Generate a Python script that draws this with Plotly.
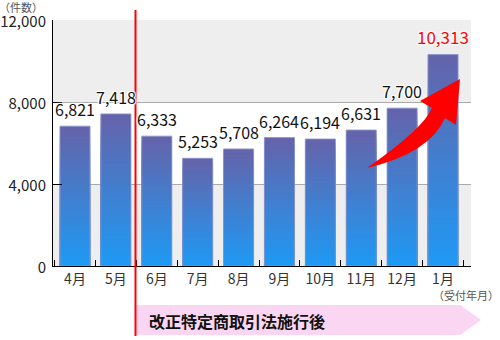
import plotly.graph_objects as go

months = ["4月", "5月", "6月", "7月", "8月", "9月", "10月", "11月", "12月", "1月"]
counts = [6821, 7418, 6333, 5253, 5708, 6264, 6194, 6631, 7700, 10313]
y_ticks = [0, 4000, 8000, 12000]
y_unit = "（件数）"
x_unit = "（受付年月）"
band_text = "改正特定商取引法施行後"

W, H = 500, 340
L, R, T, B = 53, 29, 20, 74
PW, PH = W - L - R, H - T - B

def px(x):
    return (x - L) / PW

def py(y):
    return (H - B - y) / PH

FONT = "Noto Sans CJK JP, Noto Sans, sans-serif"
top_rgb = (101, 99, 169)
bot_rgb = (30, 154, 245)
N = 40

fig = go.Figure()
for k in range(N):
    frac_h = 1 - k / N
    f = 1 - (k + 0.5) / N
    c = tuple(round(bot_rgb[i] * (1 - f) + top_rgb[i] * f) for i in range(3))
    fig.add_trace(go.Bar(
        x=months, y=[v * frac_h for v in counts],
        marker=dict(color="rgb(%d,%d,%d)" % c, line=dict(width=0)),
        hoverinfo="skip", showlegend=False))
fig.add_trace(go.Bar(
    x=months, y=counts,
    marker=dict(color="rgba(0,0,0,0)", line=dict(color="rgba(140,150,205,0.9)", width=1)),
    showlegend=False))

halo = "1px 1px 1px white, -1px -1px 1px white, 1px -1px 1px white, -1px 1px 1px white, 0 0 2px white"
annotations = []
for i, (m, v) in enumerate(zip(months, counts)):
    last = i == len(months) - 1
    annotations.append(dict(
        x=m, y=v, xref="x", yref="y", text=f"{v:,}", showarrow=False,
        yanchor="middle", yshift=18 if last else 17,
        font=dict(family=FONT, size=17 if last else 16,
                  color="#ff0000" if last else "#111111", shadow=halo)))
annotations.append(dict(x=px(-2), y=py(-2), xref="paper", yref="paper", text=y_unit,
                        showarrow=False, xanchor="left", yanchor="top", borderpad=0,
                        font=dict(family=FONT, size=11, color="#555555")))
annotations.append(dict(x=px(500), y=py(295), xref="paper", yref="paper", text=x_unit,
                        showarrow=False, xanchor="right", yanchor="middle", borderpad=0,
                        font=dict(family=FONT, size=11, color="#555555")))
annotations.append(dict(x=px(147), y=py(321), xref="paper", yref="paper", text=band_text,
                        showarrow=False, xanchor="left", yanchor="middle",
                        font=dict(family=FONT, size=16, color="#111111", weight="bold")))

shapes = []
for lo, hi, col in [(0, 4000, "#eeeeee"), (4000, 8000, "#ffffff"), (8000, 12000, "#eeeeee")]:
    shapes.append(dict(type="rect", xref="paper", yref="y", x0=0, x1=1, y0=lo, y1=hi,
                       fillcolor=col, line=dict(width=0), layer="below"))

def path(pts, close=True):
    s = ""
    for cmd, *coords in pts:
        s += cmd + " " + " ".join(
            f"{px(coords[j]):.4f},{py(coords[j+1]):.4f}" for j in range(0, len(coords), 2)) + " "
    return s + ("Z" if close else "")

band = path([("M", 135, 305), ("L", 460, 305), ("L", 481, 320), ("L", 460, 335), ("L", 135, 335)])
shapes.append(dict(type="path", xref="paper", yref="paper", path=band,
                   fillcolor="#fbd6f3", line=dict(width=0), layer="above"))
shapes.append(dict(type="line", xref="paper", yref="paper", x0=px(135.5), x1=px(135.5),
                   y0=py(10), y1=py(336), line=dict(color="#ff0000", width=2), layer="above"))
arrow = path([("M", 367, 168), ("Q", 424, 128, 432, 108), ("L", 420, 101), ("L", 460, 79),
              ("L", 456, 125), ("L", 445, 118), ("Q", 430, 153, 367, 168)])
shapes.append(dict(type="path", xref="paper", yref="paper", path=arrow,
                   fillcolor="#ff0000", line=dict(width=0), layer="above"))

fig.update_layout(
    width=W, height=H, margin=dict(l=L, r=R, t=T, b=B, pad=0, autoexpand=False),
    barmode="overlay", bargap=0.265,
    paper_bgcolor="white", plot_bgcolor="white",
    font=dict(family=FONT, color="#333333"),
    annotations=annotations, shapes=shapes,
    xaxis=dict(showline=True, linecolor="black", linewidth=1, ticks="inside",
               tickson="boundaries", ticklen=6, tickcolor="black", showgrid=False,
               automargin=False,
               tickfont=dict(family=FONT, size=14, color="#333333"), fixedrange=True),
    yaxis=dict(range=[0, 12000], tickvals=y_ticks, tickformat=",d", showline=True,
               linecolor="black", linewidth=1, ticks="inside", ticklen=9, tickcolor="black",
               showgrid=True, gridcolor="#aaaaaa", gridwidth=1, zeroline=False,
               automargin=False, ticklabelshift=2,
               tickfont=dict(family=FONT, size=15, color="#222222"), ticklabelstandoff=3,
               fixedrange=True),
)

fig.write_html("out.html")
